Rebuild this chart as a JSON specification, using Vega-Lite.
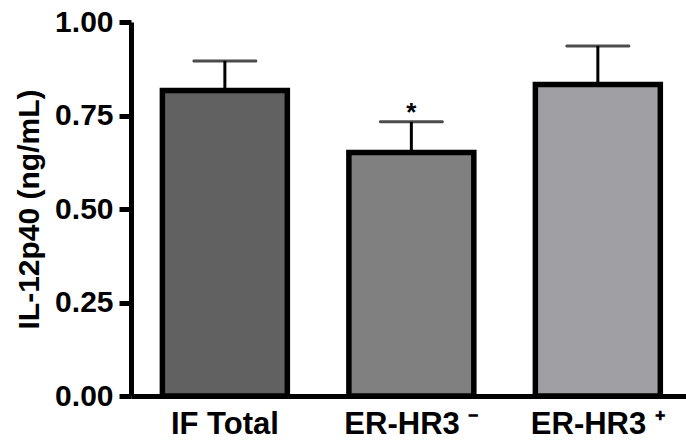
{
  "$schema": "https://vega.github.io/schema/vega-lite/v6.json",
  "width": 555,
  "height": 374,
  "autosize": {"type": "none"},
  "padding": {"left": 131, "top": 22, "right": 0, "bottom": 45},
  "background": "white",
  "config": {
    "view": {"stroke": null},
    "font": "Liberation Sans"
  },
  "data": {
    "values": [
      {"group": "IF Total", "mean": 0.817, "upper": 0.896, "mark": ""},
      {"group": "ER-HR3 ⁻", "mean": 0.651, "upper": 0.733, "mark": "*"},
      {"group": "ER-HR3 ⁺", "mean": 0.833, "upper": 0.936, "mark": ""}
    ]
  },
  "encoding": {
    "x": {
      "field": "group",
      "type": "nominal",
      "sort": null,
      "scale": {"paddingInner": 0.33, "paddingOuter": 0.153, "align": 0.55},
      "axis": {
        "title": null,
        "labelAngle": 0,
        "ticks": false,
        "domainWidth": 5,
        "domainColor": "black",
        "labelFont": "Liberation Sans",
        "labelFontWeight": "bold",
        "labelFontSize": 31,
        "labelColor": "black",
        "labelPadding": 13
      }
    }
  },
  "layer": [
    {
      "mark": {"type": "rule", "strokeWidth": 3, "color": "black"},
      "encoding": {
        "y": {"field": "mean", "type": "quantitative"},
        "y2": {"field": "upper"}
      }
    },
    {
      "mark": {"type": "tick", "size": 65, "thickness": 3, "color": "black", "cornerRadius": 1.5},
      "encoding": {
        "y": {"field": "upper", "type": "quantitative"}
      }
    },
    {
      "mark": {"type": "bar", "stroke": "black", "strokeWidth": 5.5},
      "encoding": {
        "y": {
          "field": "mean",
          "type": "quantitative",
          "scale": {"domain": [0, 1], "nice": false, "zero": true},
          "axis": {
            "title": "IL-12p40 (ng/mL)",
            "values": [0, 0.25, 0.5, 0.75, 1],
            "format": ".2f",
            "grid": false,
            "domainWidth": 5,
            "domainColor": "black",
            "tickWidth": 5,
            "tickColor": "black",
            "tickSize": 12,
            "labelFont": "Liberation Sans",
            "labelFontWeight": "bold",
            "labelFontSize": 30,
            "labelColor": "black",
            "labelPadding": 6,
            "titleFont": "Liberation Sans",
            "titleFontWeight": "bold",
            "titleFontSize": 30,
            "titleColor": "black",
            "titlePadding": 10
          }
        },
        "color": {
          "field": "group",
          "type": "nominal",
          "legend": null,
          "scale": {
            "domain": ["IF Total", "ER-HR3 ⁻", "ER-HR3 ⁺"],
            "range": ["#616161", "#808080", "#a09fa3"]
          }
        }
      }
    },
    {
      "mark": {"type": "text", "fontSize": 26, "fontWeight": "bold", "baseline": "alphabetic", "dy": -1, "color": "black"},
      "encoding": {
        "y": {"field": "upper", "type": "quantitative"},
        "text": {"field": "mark"}
      }
    }
  ]
}
